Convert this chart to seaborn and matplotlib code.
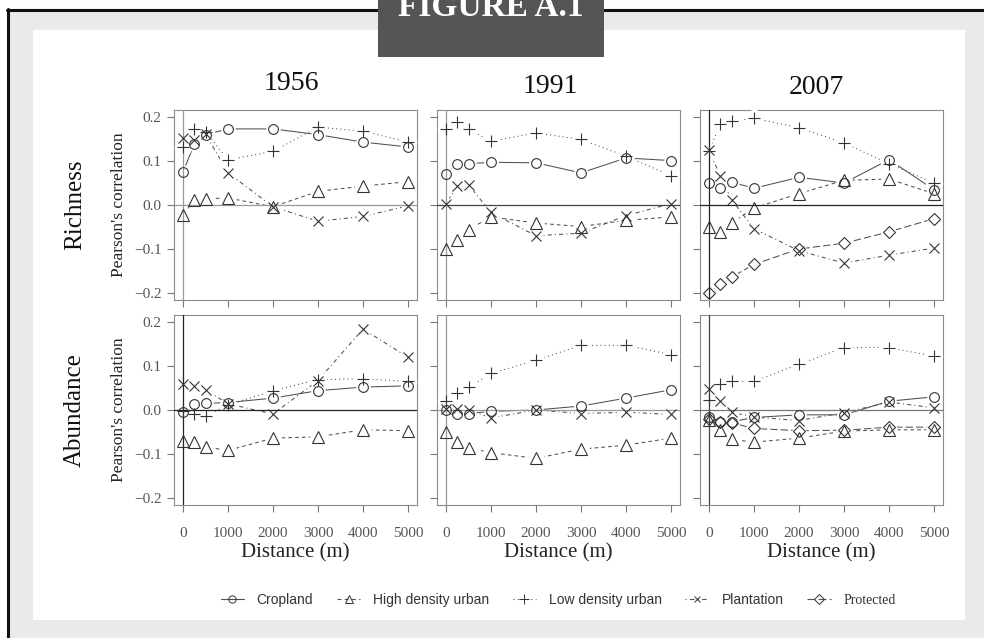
import matplotlib
matplotlib.use("Agg")
import matplotlib.pyplot as plt
import seaborn as sns
import pandas as pd
from matplotlib.lines import Line2D
from matplotlib.patches import Rectangle

# ---------------- data ----------------
distance = [0, 250, 500, 1000, 2000, 3000, 4000, 5000]
years = ["1956", "1991", "2007"]
metrics = ["Richness", "Abundance"]
land_uses = ["Cropland", "High density urban", "Low density urban", "Plantation", "Protected"]
y_ticks = [-0.2, -0.1, 0.0, 0.1, 0.2]
y_tick_labels = ["\u22120.2", "\u22120.1", "0.0", "0.1", "0.2"]
x_ticks = [0, 1000, 2000, 3000, 4000, 5000]
x_tick_labels = ["0", "1000", "2000", "3000", "4000", "5000"]

# Richness
rich_1956_crop = [0.075, 0.138, 0.160, 0.173, 0.173, 0.160, 0.143, 0.132]
rich_1956_hdu = [-0.023, 0.012, 0.014, 0.016, -0.004, 0.031, 0.043, 0.053]
rich_1956_ldu = [0.133, 0.173, 0.166, 0.103, 0.122, 0.177, 0.168, 0.143]
rich_1956_plant = [0.153, 0.148, 0.162, 0.073, -0.004, -0.037, -0.026, -0.002]

rich_1991_crop = [0.071, 0.094, 0.094, 0.097, 0.096, 0.073, 0.107, 0.101]
rich_1991_hdu = [-0.100, -0.079, -0.056, -0.027, -0.041, -0.049, -0.035, -0.027]
rich_1991_ldu = [0.172, 0.189, 0.173, 0.145, 0.164, 0.149, 0.111, 0.067]
rich_1991_plant = [0.003, 0.043, 0.046, -0.017, -0.070, -0.064, -0.024, 0.003]

rich_2007_crop = [0.050, 0.039, 0.052, 0.038, 0.063, 0.050, 0.103, 0.035]
rich_2007_hdu = [-0.049, -0.062, -0.041, -0.007, 0.026, 0.056, 0.059, 0.026]
rich_2007_ldu = [0.122, 0.185, 0.190, 0.197, 0.176, 0.141, 0.094, 0.050]
rich_2007_plant = [0.124, 0.067, 0.012, -0.054, -0.104, -0.132, -0.114, -0.098]
rich_2007_prot = [-0.199, -0.180, -0.164, -0.135, -0.100, -0.087, -0.061, -0.031]

# Abundance
abun_1956_crop = [-0.005, 0.014, 0.015, 0.017, 0.027, 0.044, 0.052, 0.055]
abun_1956_hdu = [-0.071, -0.073, -0.084, -0.092, -0.064, -0.061, -0.045, -0.047]
abun_1956_ldu = [-0.003, -0.009, -0.013, 0.011, 0.044, 0.069, 0.071, 0.065]
abun_1956_plant = [0.060, 0.055, 0.046, 0.014, -0.009, 0.067, 0.184, 0.120]

abun_1991_crop = [0.001, -0.008, -0.008, -0.003, 0.000, 0.009, 0.027, 0.046]
abun_1991_hdu = [-0.050, -0.073, -0.086, -0.097, -0.110, -0.089, -0.080, -0.064]
abun_1991_ldu = [0.020, 0.039, 0.052, 0.083, 0.113, 0.147, 0.147, 0.126]
abun_1991_plant = [0.003, 0.002, 0.000, -0.018, 0.000, -0.008, -0.005, -0.010]

abun_2007_crop = [-0.016, -0.027, -0.027, -0.017, -0.011, -0.011, 0.020, 0.030]
abun_2007_hdu = [-0.022, -0.046, -0.067, -0.073, -0.064, -0.048, -0.045, -0.045]
abun_2007_ldu = [0.023, 0.059, 0.065, 0.065, 0.104, 0.142, 0.142, 0.122]
abun_2007_plant = [0.047, 0.021, -0.005, -0.016, -0.024, -0.006, 0.018, 0.005]
abun_2007_prot = [-0.020, -0.027, -0.029, -0.042, -0.047, -0.046, -0.039, -0.039]

series = {
    ("Richness", "1956"): [rich_1956_crop, rich_1956_hdu, rich_1956_ldu, rich_1956_plant, None],
    ("Richness", "1991"): [rich_1991_crop, rich_1991_hdu, rich_1991_ldu, rich_1991_plant, None],
    ("Richness", "2007"): [rich_2007_crop, rich_2007_hdu, rich_2007_ldu, rich_2007_plant, rich_2007_prot],
    ("Abundance", "1956"): [abun_1956_crop, abun_1956_hdu, abun_1956_ldu, abun_1956_plant, None],
    ("Abundance", "1991"): [abun_1991_crop, abun_1991_hdu, abun_1991_ldu, abun_1991_plant, None],
    ("Abundance", "2007"): [abun_2007_crop, abun_2007_hdu, abun_2007_ldu, abun_2007_plant, abun_2007_prot],
}

rows = []
for (metric, year), vals in series.items():
    for lu, v in zip(land_uses, vals):
        if v is None:
            continue
        for d, y in zip(distance, v):
            rows.append(dict(metric=metric, year=year, land_use=lu, distance=d, value=y))
df = pd.DataFrame(rows)

# ---------------- style ----------------
sns.set_style("white")
plt.rcParams["font.family"] = ["Liberation Serif", "DejaVu Serif"]

W, H = 984, 638
LINE_STYLES = {
    "Cropland": "-",
    "High density urban": (0, (3.5, 3)),
    "Low density urban": (0, (1, 3)),
    "Plantation": (0, (1, 3, 4, 3)),
    "Protected": (0, (7, 3)),
}
MARKERS = {"Cropland": "o", "High density urban": "^", "Low density urban": "+",
           "Plantation": "x", "Protected": "D"}
MSIZE = {"Cropland": 7, "High density urban": 8.5, "Low density urban": 9,
         "Plantation": 6.5, "Protected": 6.5}
LINE_COLOR = "#505050"
MARK_COLOR = "#333333"
ZERO_COLORS = {("Richness", "1956"): "#999999", ("Richness", "1991"): "#444444",
               ("Richness", "2007"): "#222222", ("Abundance", "1956"): "#222222",
               ("Abundance", "1991"): "#999999", ("Abundance", "2007"): "#777777"}
VZERO_COLORS = {("Richness", "1956"): "#999999", ("Richness", "1991"): "#999999",
                ("Richness", "2007"): "#222222", ("Abundance", "1956"): "#222222",
                ("Abundance", "1991"): "#999999", ("Abundance", "2007"): "#444444"}

fig = plt.figure(figsize=(W / 100, H / 100), dpi=100, facecolor="white")


def px_rect(x0, y0, x1, y1, **kw):
    r = Rectangle((x0 / W, 1 - y1 / H), (x1 - x0) / W, (y1 - y0) / H,
                  transform=fig.transFigure, **kw)
    fig.add_artist(r)
    return r


# frame / background
px_rect(9, 11, W + 2, H + 2, facecolor="#e9eaea", edgecolor="none", zorder=-10)
px_rect(33, 30, 965, 620, facecolor="white", edgecolor="none", zorder=-9)
fig.add_artist(Line2D([7 / W, 1], [1 - 10 / H] * 2, transform=fig.transFigure,
                      color="#111111", lw=2.2, zorder=-8))
fig.add_artist(Line2D([8 / W] * 2, [1 - 9 / H, 0], transform=fig.transFigure,
                      color="#111111", lw=2.2, zorder=-8))
px_rect(378, -2, 604, 57, facecolor="#555557", edgecolor="none", zorder=-7)
fig.text(491 / W, 1 - 16 / H, "FIGURE A.1", color="white", fontsize=24,
         fontweight="bold", ha="center", va="baseline", zorder=-6)

# axes geometry (pixels)
col_left = [174, 437, 700]
ax_w = 243
row_top = [110, 315]
ax_h = 190

for r, metric in enumerate(metrics):
    for c, year in enumerate(years):
        ax = fig.add_axes([col_left[c] / W, 1 - (row_top[r] + ax_h) / H, ax_w / W, ax_h / H])
        ax.set_facecolor("white")
        sub = df[(df.metric == metric) & (df.year == year)]
        for lu in land_uses:
            s = sub[sub.land_use == lu]
            if s.empty:
                continue
            sns.lineplot(data=s, x="distance", y="value", ax=ax, color=LINE_COLOR,
                         lw=0.75, linestyle=LINE_STYLES[lu], errorbar=None,
                         legend=False, zorder=2)
            # gap around points (R type="b")
            ax.plot(s.distance, s.value, ls="none", marker="o", ms=MSIZE[lu] + 1,
                    mfc="white", mec="white", mew=2.5, zorder=3)
        ax.axhline(0, color=ZERO_COLORS[(metric, year)], lw=0.9, zorder=3.5)
        ax.axvline(0, color=VZERO_COLORS[(metric, year)], lw=0.9, zorder=3.5)
        for lu in land_uses:
            s = sub[sub.land_use == lu]
            if s.empty:
                continue
            ax.plot(s.distance, s.value, ls="none", marker=MARKERS[lu], ms=MSIZE[lu],
                    mfc="none", mec=MARK_COLOR, mew=0.8, zorder=4)

        ax.set_xlim(-200, 5200)
        ax.set_ylim(-0.216, 0.216)
        ax.set_xticks(x_ticks)
        ax.set_yticks(y_ticks)
        ax.set_xlabel("")
        ax.set_ylabel("")
        for sp in ax.spines.values():
            sp.set_color("#8a8a8a")
            sp.set_linewidth(0.8)
        ax.tick_params(axis="both", direction="out", length=5, width=0.8,
                       color="#777777", labelcolor="#555555", labelsize=11,
                       left=True, bottom=True)
        ax.tick_params(axis="y", pad=4)
        ax.tick_params(axis="x", pad=11)
        if c == 0:
            ax.set_yticklabels(y_tick_labels)
            ax.set_ylabel("Pearson's correlation", fontsize=12.5, color="#222222",
                          labelpad=5)
        else:
            ax.set_yticklabels([])
        if r == 1:
            ax.set_xticklabels(x_tick_labels)
            ax.set_xlabel("Distance (m)", fontsize=15, color="#222222", labelpad=2)
        else:
            ax.set_xticklabels([])

# column titles
for xc, yb, t in [(291, 90, "1956"), (550, 93, "1991"), (816, 94, "2007")]:
    fig.text(xc / W, 1 - yb / H, t, fontsize=20, ha="center", va="baseline", color="#111111")

# row labels
for yc, t in [(205, "Richness"), (410, "Abundance")]:
    fig.text(75 / W, 1 - yc / H, t, fontsize=18, rotation=90, ha="center",
             va="center", color="#111111")

# legend
handles = [Line2D([], [], color=LINE_COLOR, lw=0.8, linestyle=LINE_STYLES[lu],
                  marker=MARKERS[lu], ms=MSIZE[lu] * 0.75, mfc="none", mec=MARK_COLOR,
                  mew=0.7) for lu in land_uses]
leg = fig.legend(handles, land_uses, loc="center", bbox_to_anchor=(558 / W, 1 - 600 / H),
                 ncol=5, frameon=False, handlelength=1.7, handletextpad=0.9,
                 columnspacing=1.7, fontsize=10)
for t, lu in zip(leg.get_texts(), land_uses):
    t.set_color("#333333")
    if lu == "Protected":
        t.set_family(["Liberation Serif", "DejaVu Serif"])
    else:
        t.set_family(["Liberation Sans Narrow", "Liberation Sans", "DejaVu Sans"])

fig.savefig("out.png", dpi=100)
